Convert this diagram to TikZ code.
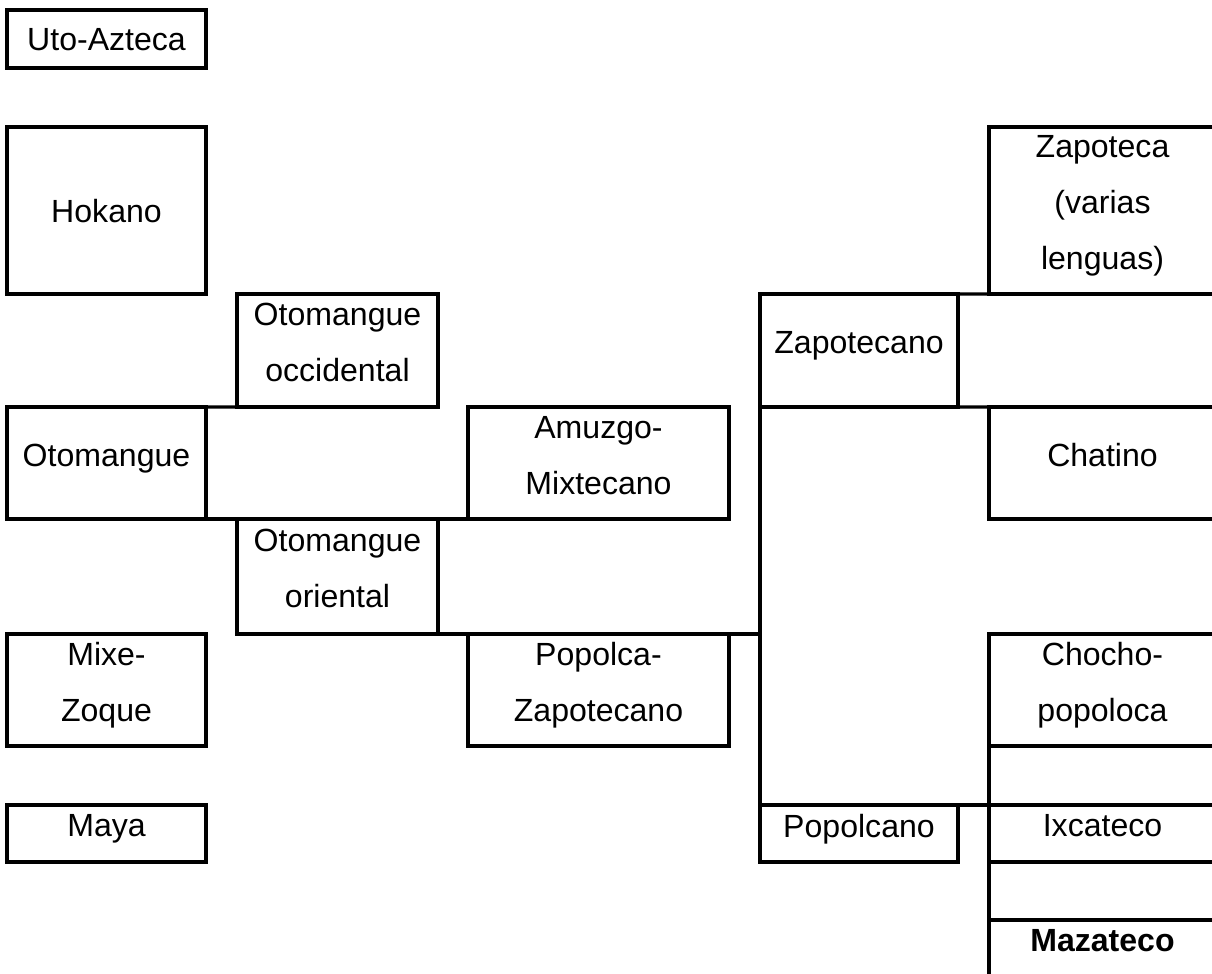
\documentclass[tikz,border=0pt]{standalone}
\usepackage{fontspec}
\setmainfont{Liberation Sans}
\usepackage{tikz}

\newcommand\pxu{0.025cm}

\begin{document}
\begin{tikzpicture}[x=\pxu,y=-\pxu,line width=2.2pt,
  cell/.style={draw,anchor=north west,inner sep=0pt,outer sep=0pt,align=center,
    text depth=0.4cm,font=\fontsize{22.8}{39.8}\selectfont},
  wd/.style={minimum width=#1*\pxu},
  ht/.style={minimum height=#1*\pxu},
  link/.style={line cap=rect}]
\useasboundingbox (0,0) rectangle (1212,974);
\clip (0,0) rectangle (1212,974);

% left column
\node[cell,text depth=0pt,wd=199,ht=58]  (uto) at (7,10)  {Uto-Azteca};
\node[cell,text depth=0pt,wd=199,ht=167] (hok) at (7,127) {Hokano};
\node[cell,wd=199,ht=112] (oto) at (7,407)  {Otomangue};
\node[cell,wd=199,ht=112] (mix) at (7,634)  {Mixe-\\Zoque};
\node[cell,wd=199,ht=57]  (may) at (7,805)  {Maya};

% otomangue branches
\node[cell,wd=201,ht=113] (occ) at (237,294) {Otomangue\\occidental};
\node[cell,wd=201,ht=115] (ori) at (237,519) {Otomangue\\oriental};
\node[cell,wd=261,ht=112] (amu) at (468,407) {Amuzgo-\\Mixtecano};
\node[cell,wd=261,ht=112] (pop) at (468,634) {Popolca-\\Zapotecano};

% popolca-zapotecano branches
\node[cell,wd=198,ht=113] (zap) at (760,294) {Zapotecano};
\node[cell,wd=198,ht=57]  (pln) at (760,805) {Popolcano};

% right column
\node[cell,wd=227,ht=167] (zpt) at (989,127) {Zapoteca\\(varias\\lenguas)};
\node[cell,wd=227,ht=112] (cha) at (989,407) {Chatino};
\node[cell,wd=227,ht=112] (cho) at (989,634) {Chocho-\\popoloca};
\node[cell,wd=227,ht=57]  (ixc) at (989,805) {Ixcateco};
\node[cell,wd=227,ht=57]  (maz) at (989,920) {\textbf{Mazateco}};

% connectors
\draw[link] (oto.north east) -- (occ.south west);
\draw[link] (oto.south east) -- (amu.south west);
\draw[link] (ori.south east) -- (ori.south east -| zap.west);
\draw[link] (zap.south west) -- (pln.north west);
\draw[link] (zap.north east) -- (zpt.south west);
\draw[link] (zap.south east) -- (cha.north west);
\draw[link] (pln.north east) -- (ixc.north west);
\draw[link] (cho.south west) -- (ixc.north west);
\draw[link] (ixc.south west) -- (maz.north west);
\end{tikzpicture}
\end{document}
